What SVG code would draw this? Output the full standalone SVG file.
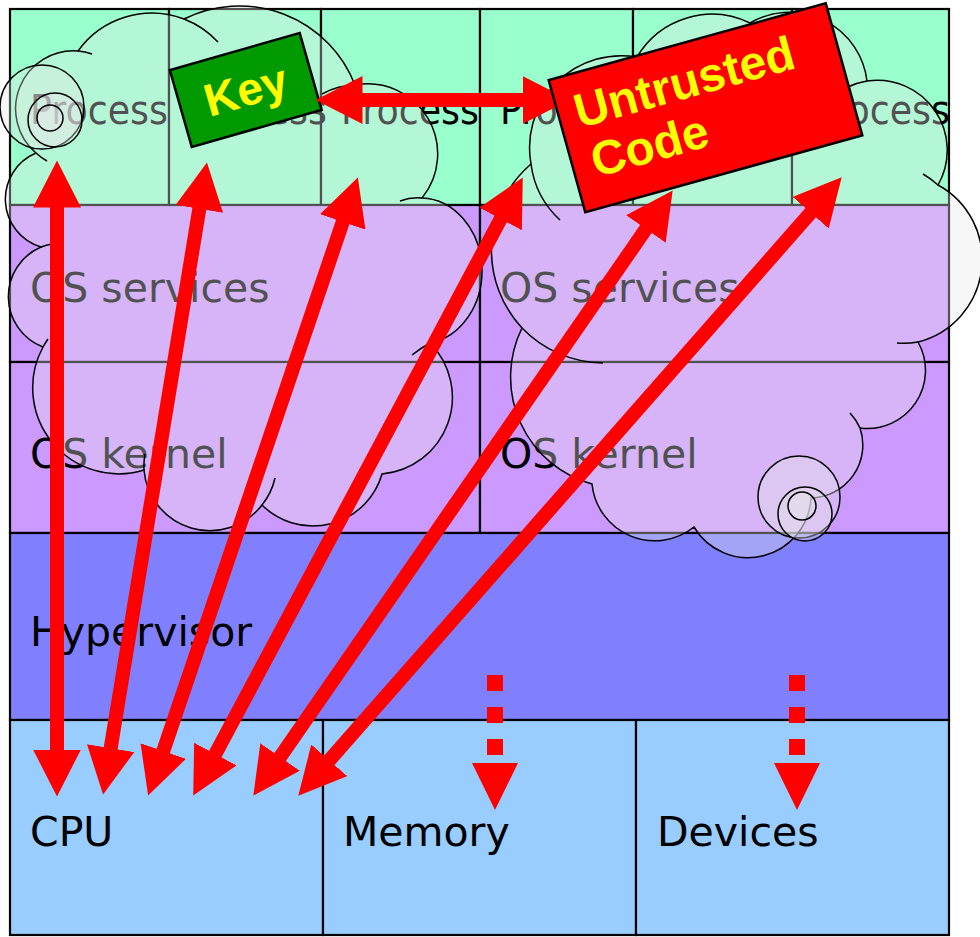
<svg xmlns="http://www.w3.org/2000/svg" width="980" height="937" viewBox="0 0 980 937">
<defs>
<style>
.cell{stroke:#000;stroke-width:2.2}
.proc{fill:#99FFCC}
.os{fill:#CC99FF}
.hyp{fill:#8080FF}
.hw{fill:#99CCFF}
.lbl{font-family:"DejaVu Sans",Verdana,sans-serif;font-size:41px;fill:#000}
.plbl{font-family:"DejaVu Sans",Verdana,sans-serif;font-size:40px;fill:#000}
.cloud{fill:#E8E8E8;fill-opacity:0.35;stroke:#000;stroke-width:1.5}
.crease{fill:none;stroke:#000;stroke-width:1.5}
.arr{stroke:#FF0000;stroke-width:14;fill:none;marker-start:url(#ah);marker-end:url(#ah)}
.dash{stroke:#FF0000;stroke-width:16;stroke-dasharray:16 16;fill:none}
.hd{fill:#FF0000}
.box{stroke:#000;stroke-width:2.5}
.btxt{font-family:"Liberation Sans",Arial,sans-serif;font-weight:bold;fill:#FFFF00}
</style>
<marker id="ah" markerUnits="userSpaceOnUse" markerWidth="48" markerHeight="48" viewBox="0 0 48 48" refX="0.5" refY="24" orient="auto-start-reverse"><path d="M0,0 L47,24 L0,48 Z" fill="#FF0000"/></marker>
<path id="dh" d="M-23,0 L23,0 L0,47 Z"/>
</defs>
<rect width="980" height="937" fill="#FFFFFF"/>
<g id="layers">
<rect class="cell proc" x="10" y="9" width="159" height="196"/>
<rect class="cell proc" x="169" y="9" width="152" height="196"/>
<rect class="cell proc" x="321" y="9" width="159" height="196"/>
<rect class="cell proc" x="480" y="9" width="153" height="196"/>
<rect class="cell proc" x="633" y="9" width="159" height="196"/>
<rect class="cell proc" x="792" y="9" width="157" height="196"/>
<rect class="cell os" x="10" y="205" width="470" height="157"/>
<rect class="cell os" x="480" y="205" width="469" height="157"/>
<rect class="cell os" x="10" y="362" width="470" height="171"/>
<rect class="cell os" x="480" y="362" width="469" height="171"/>
<rect class="cell hyp" x="10" y="533" width="939" height="187"/>
<rect class="cell hw" x="10" y="720" width="313" height="215"/>
<rect class="cell hw" x="323" y="720" width="313" height="215"/>
<rect class="cell hw" x="636" y="720" width="313" height="215"/>
</g>
<g id="labels">
<g id="process-1"><text class="plbl" x="30" y="124" textLength="138" lengthAdjust="spacingAndGlyphs">Process</text></g>
<g id="process-2"><text class="plbl" x="189" y="124" textLength="138" lengthAdjust="spacingAndGlyphs">Process</text></g>
<g id="process-3"><text class="plbl" x="341" y="124" textLength="138" lengthAdjust="spacingAndGlyphs">Process</text></g>
<g id="process-4"><text class="plbl" x="500" y="124" textLength="138" lengthAdjust="spacingAndGlyphs">Process</text></g>
<g id="process-5"><text class="plbl" x="653" y="124" textLength="138" lengthAdjust="spacingAndGlyphs">Process</text></g>
<g id="process-6"><text class="plbl" x="812" y="124" textLength="138" lengthAdjust="spacingAndGlyphs">Process</text></g>
<g id="os-services-1"><text class="lbl" x="30" y="302">OS services</text></g>
<g id="os-services-2"><text class="lbl" x="500" y="302">OS services</text></g>
<g id="os-kernel-1"><text class="lbl" x="30" y="468">OS kernel</text></g>
<g id="os-kernel-2"><text class="lbl" x="500" y="468">OS kernel</text></g>
<g id="hypervisor"><text class="lbl" x="30" y="646">Hypervisor</text></g>
<g id="cpu"><text class="lbl" x="30" y="846">CPU</text></g>
<g id="memory"><text class="lbl" x="343" y="846">Memory</text></g>
<g id="devices"><text class="lbl" x="657" y="846">Devices</text></g>
</g>
<g id="cloud-left">
<path class="cloud" d="M36,153 A58,58 0 0 1 78,51 A91,91 0 0 1 184,19 A124,124 0 0 1 355,85 A70,70 0 0 1 422,198 A62,73 0 0 1 430,343 A77,77 0 0 1 382,474 A72,72 0 0 1 262,505 A66,66 0 0 1 144,470 A86,86 0 0 1 43,347 A54,54 0 0 1 41,247 A50,50 0 0 1 36,153 Z"/>
<path class="crease" d="M184,19 A91,91 0 0 1 218,42 M322,94 A70,70 0 0 1 355,85 M400,201 Q411,197 422,198 M412,355 Q421,348 430,343 M275,478 A66,66 0 0 1 262,505 M144,470 A66,66 0 0 1 145,454 M43,347 A86,86 0 0 1 48,339 M41,247 A54,54 0 0 1 52,244 M47,161 A58,58 0 0 1 36,153 M78,51 A58,58 0 0 1 92,54"/>
<circle class="cloud" cx="42" cy="107" r="42"/>
<circle class="cloud" cx="55" cy="120" r="27"/>
<circle class="cloud" cx="50" cy="118" r="13"/>
</g>
<g id="cloud-right">
<path class="cloud" d="M522,328 A114,114 0 0 1 531,164 A92,92 0 0 1 637,57 A87,87 0 0 1 750,23 A78,78 0 0 1 867,81 A70,70 0 0 1 938,185 A85,85 0 0 1 918,342 A58,58 0 0 1 860,428 A53,53 0 0 1 811,498 A63,63 0 0 1 694,527 A63,63 0 0 1 592,484 A111,111 0 0 1 522,328 Z"/>
<path class="crease" d="M603,363 A114,114 0 0 1 522,328 M560,220 A92,92 0 0 1 531,164 M848,87 A70,70 0 0 1 867,81 M923,174 A85,85 0 0 1 938,185 M918,342 A85,85 0 0 1 897,343 M850,413 A53,53 0 0 1 860,428"/>
<circle class="cloud" cx="799" cy="497" r="41"/>
<circle class="cloud" cx="805" cy="514" r="27"/>
<circle class="cloud" cx="802" cy="506" r="14"/>
</g>
<g id="key" transform="translate(245.75,90) rotate(-15.9)">
<rect class="box" x="-67.5" y="-40" width="135" height="80" fill="#009900"/>
<text class="btxt" x="0" y="16" font-size="46" text-anchor="middle">Key</text>
</g>
<g id="connectors">
<line class="arr" x1="57" y1="207" x2="57" y2="750"/>
<line class="arr" x1="199.4" y1="208.4" x2="110.6" y2="748.6"/>
<line class="arr" x1="342.9" y1="221.5" x2="163.1" y2="751.5"/>
<line class="arr" x1="500.9" y1="218.5" x2="215.1" y2="754.5"/>
<line class="arr" x1="646.2" y1="228.6" x2="279.8" y2="757.4"/>
<line class="arr" x1="811" y1="212.3" x2="329" y2="760.7"/>
<line class="arr" x1="362" y1="100" x2="523" y2="100"/>
<line class="dash" x1="495" y1="675" x2="495" y2="755"/>
<use href="#dh" class="hd" x="495" y="763"/>
<line class="dash" x1="797" y1="675" x2="797" y2="755"/>
<use href="#dh" class="hd" x="797" y="763"/>
</g>
<g id="untrusted-code" transform="translate(705.5,107.75) rotate(-15.5)">
<rect class="box" x="-143.75" y="-68.5" width="287.5" height="137" fill="#FF0000"/>
<text class="btxt" font-size="48"><tspan x="-127" y="-14">Untrusted</tspan><tspan x="-124" y="38">Code</tspan></text>
</g>
</svg>
